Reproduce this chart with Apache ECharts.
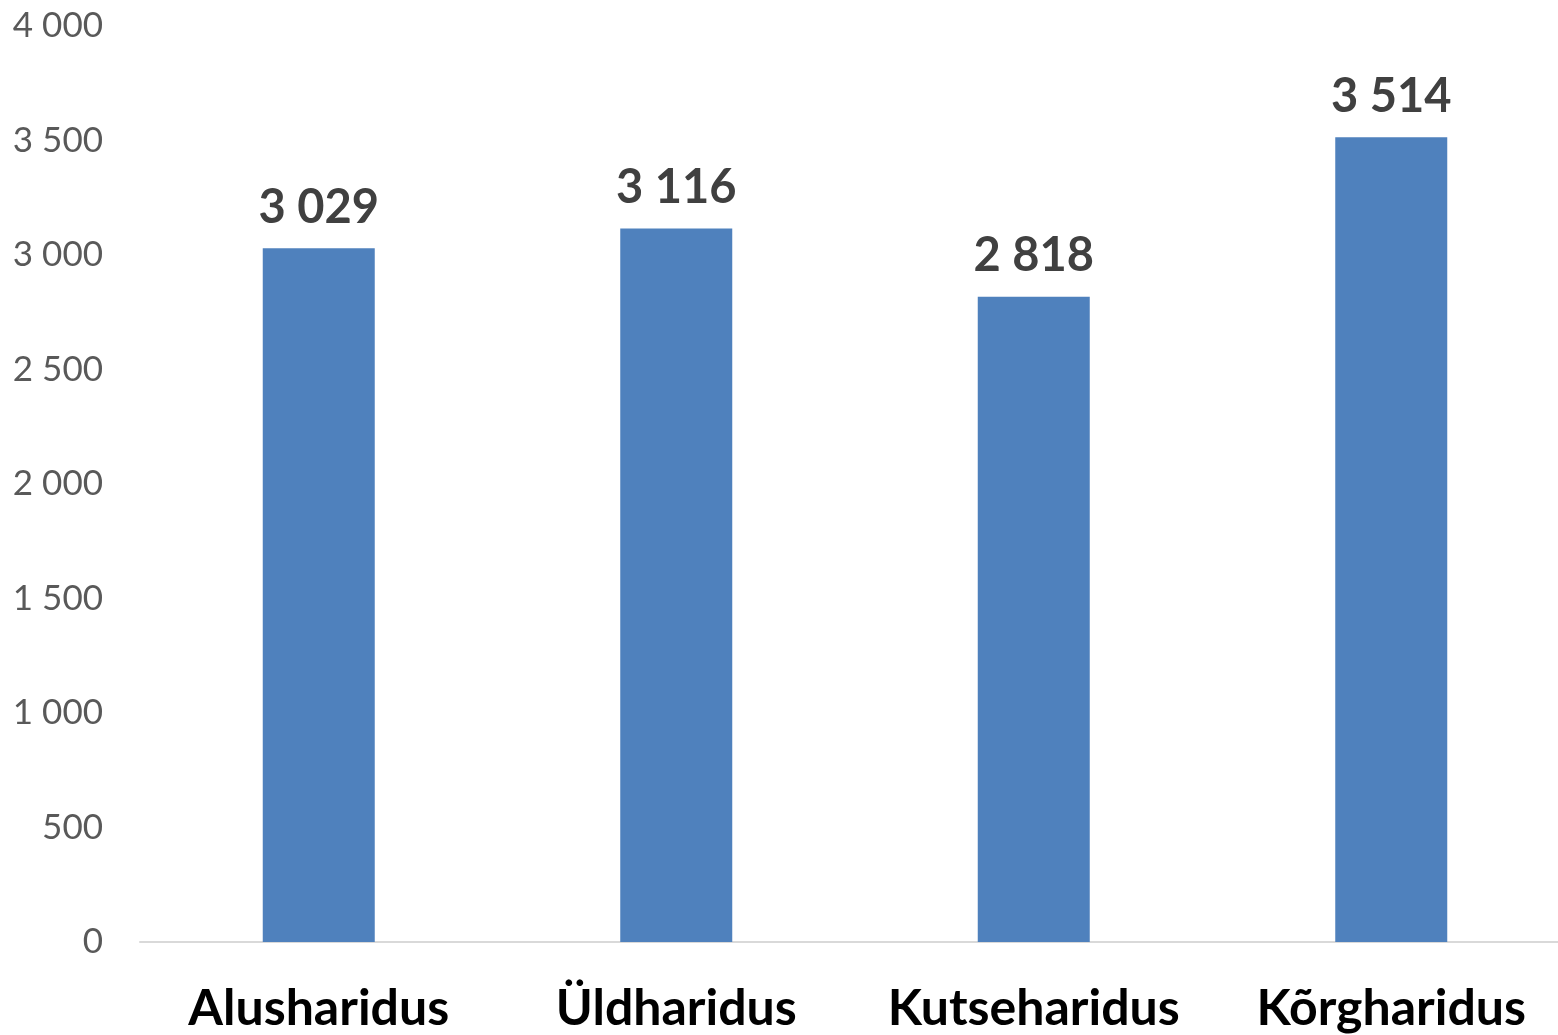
<!DOCTYPE html>
<html>
<head>
<meta charset="utf-8">
<script src="https://cdn.jsdelivr.net/npm/echarts@6/dist/echarts.min.js"></script>
<style>html,body{margin:0;padding:0;background:#fff;overflow:hidden}#c{width:1558px;height:1035px}</style>
</head>
<body>
<div id="c"></div>
<script>
const categories = ['Alusharidus', 'Üldharidus', 'Kutseharidus', 'Kõrgharidus'];
const values = [3029, 3116, 2818, 3514];
const yTicks = [0, 500, 1000, 1500, 2000, 2500, 3000, 3500, 4000];

function fmt(v) {
  return String(v).replace(/\B(?=(\d{3})+(?!\d))/g, ' ');
}

const chart = echarts.init(document.getElementById('c'));
chart.setOption({
  animation: false,
  backgroundColor: '#fff',
  grid: { left: 140, width: 1430, top: 26, bottom: 93, containLabel: false, outerBoundsMode: 'none' },
  xAxis: {
    type: 'category',
    data: categories,
    axisLine: { lineStyle: { color: '#D9D9D9', width: 2 } },
    axisTick: { show: false },
    axisLabel: {
      color: '#000', fontFamily: 'Lato', fontWeight: 'bold', fontSize: 50, margin: 42, interval: 0
    }
  },
  yAxis: {
    type: 'value',
    min: yTicks[0],
    max: yTicks[yTicks.length - 1],
    interval: 500,
    splitLine: { show: false },
    axisLine: { show: false },
    axisTick: { show: false },
    axisLabel: {
      color: '#595959', fontFamily: 'Lato', fontSize: 35, margin: 37,
      formatter: v => fmt(v)
    }
  },
  series: [{
    type: 'bar',
    data: values,
    barWidth: 112,
    itemStyle: { color: '#4F81BD' },
    label: {
      show: true, position: 'top', distance: 17,
      color: '#404040', fontFamily: 'Lato', fontWeight: 'bold', fontSize: 47,
      formatter: p => fmt(p.value)
    }
  }]
});
</script>
</body>
</html>
